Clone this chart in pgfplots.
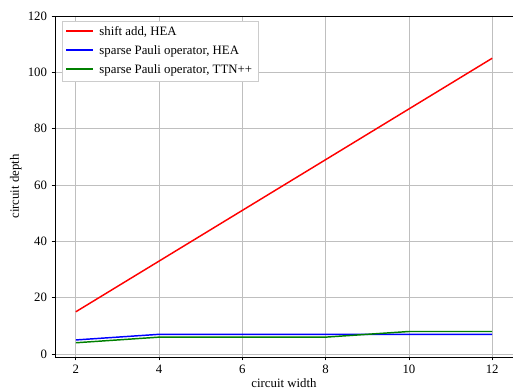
\documentclass[border=0pt]{standalone}
\usepackage{pgfplots}
\pgfplotsset{compat=1.18}
\usepackage{fontspec}
\setmainfont{Liberation Serif}
\definecolor{mplgreen}{HTML}{008000}
\begin{document}
\fontsize{9.6}{11}\selectfont
\begin{tikzpicture}[x=0.75pt,y=0.75pt]
\useasboundingbox (-55,-34) rectangle (458,357);
\begin{axis}[
  at={(0,0)}, anchor=south west,
  scale only axis,
  width=343.5pt, height=255.75pt,
  xmin=1.5, xmax=12.5,
  ymin=-1.05, ymax=120,
  xtick={2,4,6,8,10,12},
  ytick={0,20,40,60,80,100,120},
  grid=major,
  grid style={color=black!25, line width=0.6pt},
  tick align=outside,
  major tick length=2.6pt,
  tick style={black, line width=0.6pt},
  axis line style={line width=0.6pt},
  xtick pos=left, ytick pos=left,
  /pgf/number format/assume math mode=true,
  xlabel={circuit width},
  ylabel={circuit depth},
  xlabel style={yshift=3pt},
  ylabel style={yshift=-2pt},
  legend cell align=left,
  legend image code/.code={\fill[#1,draw=none] (0pt,0pt) rectangle (20pt,1.7pt);},
  legend style={draw=black!20, fill=white, inner xsep=3pt, inner ysep=2pt,
    row sep=2.2pt, at={(0.015,0.985)}, anchor=north west,
    /tikz/every odd column/.append style={column sep=3pt}},
]
\addplot[red, line width=1.1pt] coordinates {(2,15) (4,33) (6,51) (8,69) (10,87) (12,105)};
\addlegendentry{shift add, HEA}
\addplot[blue, line width=1.1pt] coordinates {(2,5) (4,7) (6,7) (8,7) (10,7) (12,7)};
\addlegendentry{sparse Pauli operator, HEA}
\addplot[mplgreen, line width=1.1pt] coordinates {(2,4) (4,6) (6,6) (8,6) (10,8) (12,8)};
\addlegendentry{sparse Pauli operator, TTN++}
\end{axis}
\end{tikzpicture}
\end{document}
